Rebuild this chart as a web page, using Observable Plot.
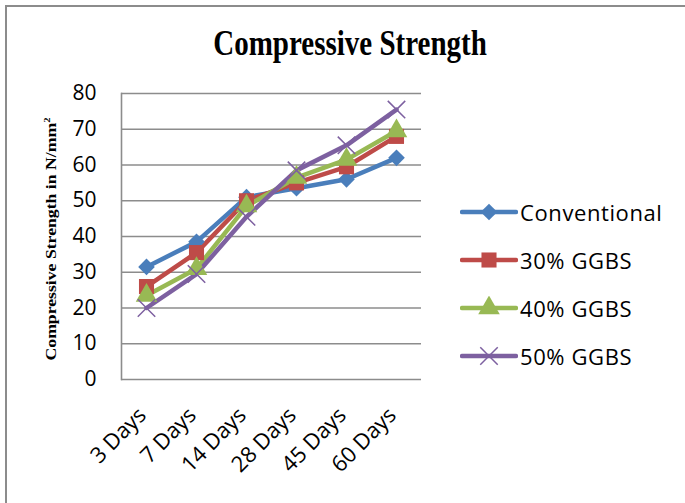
<!DOCTYPE html>
<html>
<head>
<meta charset="utf-8">
<script src="https://cdn.jsdelivr.net/npm/d3@7"></script>
<script src="https://cdn.jsdelivr.net/npm/@observablehq/plot@0.6"></script>
<style>
  html, body { margin: 0; padding: 0; background: #fff; }
  #wrap { position: relative; width: 685px; height: 503px; overflow: hidden; background: #fff; }
  #frame { position: absolute; left: 5px; top: 5px; width: 720px; height: 600px; border: 2px solid #8c8c8c; box-sizing: border-box; }
  #title { position: absolute; left: 0; width: 700px; top: 24px; text-align: center; line-height: 1; transform: scaleY(1.2); transform-origin: 50% 0; font: bold 29px "Liberation Serif", "Times New Roman", serif; color: #000; }
  #ylabel { position: absolute; left: 51px; top: 239px; transform: translate(-50%, -50%) rotate(-90deg) scaleX(1.22); white-space: nowrap; font: bold 14.5px "Liberation Serif", "Times New Roman", serif; color: #000; }
  #chart { position: absolute; left: 0; top: 0; }
  #legend { position: absolute; left: 460px; top: 188px; font: 22px "Open Sans", sans-serif; letter-spacing: 0.6px; color: #000; }
  .row { display: flex; align-items: center; height: 48px; }
  .row svg { margin-right: 2px; }
</style>
</head>
<body>
<div id="wrap">
  <div id="frame"></div>
  <div id="title">Compressive Strength</div>
  <div id="ylabel">Compressive Strength in N/mm<sup style="font-size:0.6em">2</sup></div>
  <div id="chart"></div>
  <div id="legend"></div>
</div>
<script>
const categories = ["3 Days", "7 Days", "14 Days", "28 Days", "45 Days", "60 Days"];
const seriesNames = ["Conventional", "30% GGBS", "40% GGBS", "50% GGBS"];
const conventional = [31.5, 38.5, 51, 53.5, 56, 62];
const ggbs30 = [26, 35.5, 50, 55, 59.5, 68];
const ggbs40 = [23.5, 31, 48.5, 56.5, 61.5, 69.5];
const ggbs50 = [20, 29.5, 45.5, 58.5, 65.5, 75.5];
const yTicks = [0, 10, 20, 30, 40, 50, 60, 70, 80];
const colors = ["#4a7ebb", "#be4b48", "#98b954", "#7d60a0"];
const symbols = ["diamond2", "square", "triangle", "times"];
const radii = [7.5, 8.5, 8, 8];

const values = [conventional, ggbs30, ggbs40, ggbs50];
const table = [];
values.forEach((arr, s) => arr.forEach((v, i) => table.push({series: seriesNames[s], day: categories[i], value: v})));

const marks = [
  Plot.ruleY(yTicks, {stroke: "#8c8c8c", strokeWidth: 1.6}),
  Plot.frame({anchor: "left", stroke: "#8c8c8c", strokeWidth: 1.6}),
  Plot.axisY({ticks: yTicks, tickSize: 0, tickPadding: 25, label: null, fontSize: 21}),
  Plot.axisX({tickSize: 0, tickRotate: -45, tickPadding: 32, dx: -4, label: null, fontSize: 22})
];
seriesNames.forEach((name, s) => {
  const data = table.filter(d => d.series === name);
  marks.push(Plot.line(data, {x: "day", y: "value", stroke: colors[s], strokeWidth: 4.5}));
});
seriesNames.forEach((name, s) => {
  const data = table.filter(d => d.series === name);
  if (symbols[s] === "times") {
    marks.push(Plot.dot(data, {x: "day", y: "value", symbol: symbols[s], r: radii[s], stroke: colors[s], strokeWidth: 1.5}));
  } else {
    marks.push(Plot.dot(data, {x: "day", y: "value", symbol: symbols[s], r: radii[s], fill: colors[s], stroke: "none"}));
  }
});

const chart = Plot.plot({
  width: 440,
  height: 460,
  marginLeft: 121,
  marginRight: 19,
  marginTop: 93,
  marginBottom: 81,
  style: {fontFamily: "Open Sans, sans-serif", fontSize: "20px", color: "#000", background: "transparent", overflow: "visible"},
  x: {type: "point", domain: categories, padding: 0.5},
  y: {domain: [0, 80]},
  marks
});
document.getElementById("chart").appendChild(chart);

// legend
const legend = d3.select("#legend");
const symMap = {diamond2: d3.symbolDiamond2, square: d3.symbolSquare, triangle: d3.symbolTriangle, times: d3.symbolTimes};
seriesNames.forEach((name, s) => {
  const row = legend.append("div").attr("class", "row");
  const svg = row.append("svg").attr("width", 58).attr("height", 24);
  svg.append("line").attr("x1", 2).attr("x2", 56).attr("y1", 12).attr("y2", 12)
    .attr("stroke", colors[s]).attr("stroke-width", 4.5).attr("stroke-linecap", "round");
  const p = svg.append("path").attr("transform", "translate(29,12)")
    .attr("d", d3.symbol(symMap[symbols[s]], Math.PI * radii[s] * radii[s])());
  if (symbols[s] === "times") p.attr("fill", "none").attr("stroke", colors[s]).attr("stroke-width", 1.5);
  else p.attr("fill", colors[s]);
  row.append("span").text(name);
});
</script>
</body>
</html>
